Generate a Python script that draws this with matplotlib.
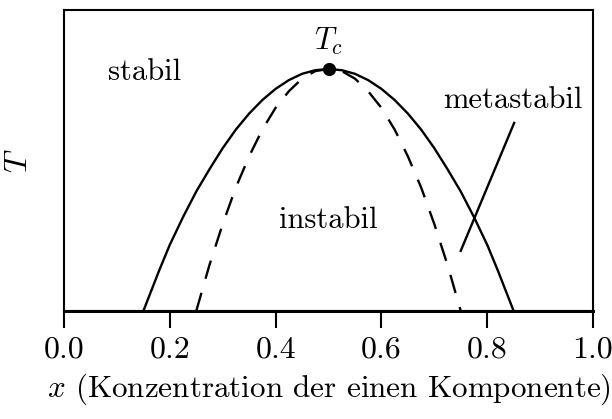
import matplotlib
matplotlib.use("Agg")
import matplotlib.pyplot as plt

plt.rcParams['font.family'] = ['cmr10', 'DejaVu Serif']
plt.rcParams['mathtext.fontset'] = 'cm'
plt.rcParams['axes.formatter.use_mathtext'] = True

# Binodal (solid) and spinodal (dashed) curves
binodal_x = [0.15, 0.18, 0.20, 0.225, 0.25, 0.275, 0.30, 0.325, 0.35, 0.375, 0.40, 0.425, 0.45, 0.475, 0.50,
             0.525, 0.55, 0.575, 0.60, 0.625, 0.65, 0.675, 0.70, 0.725, 0.75, 0.775, 0.80, 0.82, 0.85]
binodal_T = [0.000, 0.135, 0.220, 0.312, 0.397, 0.471, 0.541, 0.603, 0.656, 0.701, 0.738, 0.767, 0.788, 0.800, 0.804,
             0.800, 0.788, 0.767, 0.738, 0.701, 0.656, 0.603, 0.541, 0.471, 0.397, 0.312, 0.220, 0.135, 0.000]
spinodal_x = [0.25, 0.275, 0.30, 0.325, 0.35, 0.375, 0.40, 0.425, 0.45, 0.475, 0.50,
              0.525, 0.55, 0.575, 0.60, 0.625, 0.65, 0.675, 0.70, 0.725, 0.75]
spinodal_T = [0.000, 0.153, 0.289, 0.411, 0.514, 0.603, 0.675, 0.730, 0.772, 0.797, 0.804,
              0.797, 0.772, 0.730, 0.675, 0.603, 0.514, 0.411, 0.289, 0.153, 0.000]
critical_x, critical_T = 0.5, 0.804
pointer_x = [0.851, 0.750]
pointer_T = [0.625, 0.200]
xticks = [0.0, 0.2, 0.4, 0.6, 0.8, 1.0]

fig = plt.figure(figsize=(6.12, 4.19), dpi=100)
ax = fig.add_axes([64/612, (419-311)/419, (593-64)/612, (311-10)/419])

ax.plot(binodal_x, binodal_T, color='black', lw=1.7, solid_capstyle='butt')
ax.plot(spinodal_x, spinodal_T, color='black', lw=1.7, dashes=(8.0, 6.2))
ax.plot([0, 1], [0, 0], color='black', lw=2.2, clip_on=False)
ax.plot(pointer_x, pointer_T, color='black', lw=1.7)
ax.plot([critical_x], [critical_T], 'o', color='black', ms=8.5, zorder=5)

ax.text(critical_x, 0.895, r'$T_c$', ha='center', va='center', fontsize=22)
ax.text(0.153, 0.794, 'stabil', ha='center', va='center', fontsize=22)
ax.text(0.50, 0.30, 'instabil', ha='center', va='center', fontsize=22)
ax.text(0.849, 0.70, 'metastabil', ha='center', va='center', fontsize=22)

ax.set_xlim(0, 1)
ax.set_ylim(0, 1)
ax.set_xticks(xticks)
ax.set_xticklabels([f'{v:.1f}' for v in xticks])
ax.set_yticks([])
ax.tick_params(axis='x', direction='out', length=12, width=1.5, labelsize=23, pad=6)
for s in ax.spines.values():
    s.set_linewidth(1.5)

ax.set_xlabel(r'$x$ (Konzentration der einen Komponente)', fontsize=22.4, labelpad=6)
ax.set_ylabel(r'$T$', fontsize=23, labelpad=22)

fig.savefig('out.png', dpi=100)
